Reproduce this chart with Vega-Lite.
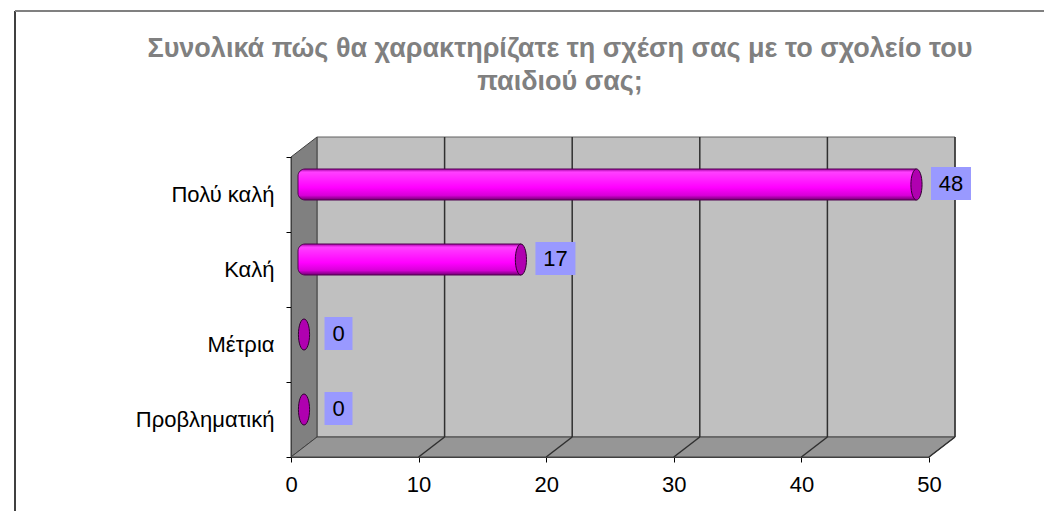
{
  "$schema": "https://vega.github.io/schema/vega-lite/v6.json",
  "width": 638,
  "height": 300,
  "autosize": "none",
  "padding": {"left": 291, "top": 157, "right": 115, "bottom": 54},
  "background": "white",
  "config": {
    "font": "Liberation Sans",
    "view": {"stroke": null}
  },
  "title": {
    "text": ["Συνολικά πώς θα χαρακτηρίζατε τη σχέση σας με το σχολείο του", "παιδιού σας;"],
    "fontSize": 27,
    "fontWeight": "bold",
    "color": "#808080",
    "anchor": "middle",
    "frame": "group",
    "baseline": "bottom",
    "lineHeight": 33,
    "dx": -50,
    "offset": -113
  },
  "layer": [
    {
      "data": {"values": [{}]},
      "layer": [
        {
          "mark": {"type": "rect", "fill": "#c0c0c0", "stroke": "#606060", "strokeWidth": 1,
                   "xOffset": 26, "x2Offset": 26, "yOffset": -20, "y2Offset": -20},
          "encoding": {
            "x": {"datum": 0, "type": "quantitative"},
            "x2": {"datum": 50},
            "y": {"datum": 0, "type": "quantitative", "scale": {"domain": [0, 300]}, "axis": null},
            "y2": {"datum": 300}
          }
        },
        {
          "mark": {"type": "point", "filled": true, "opacity": 1, "fill": "#808080", "stroke": "#404040", "strokeWidth": 1,
                   "shape": "M-0.08125,-0.875L0.08125,-1L0.08125,0.875L-0.08125,1Z", "size": 102400,
                   "xOffset": 13, "yOffset": -10},
          "encoding": {
            "x": {"datum": 0, "type": "quantitative"},
            "y": {"datum": 150, "type": "quantitative"}
          }
        },
        {
          "mark": {"type": "point", "filled": true, "opacity": 1, "fill": "#969696", "stroke": "#404040", "strokeWidth": 1,
                   "shape": "M-1,0.03012L0.92169,0.03012L1,-0.03012L-0.92169,-0.03012Z", "size": 440896,
                   "xOffset": 13, "yOffset": -10},
          "encoding": {
            "x": {"datum": 25, "type": "quantitative"},
            "y": {"datum": 0, "type": "quantitative"}
          }
        },
        {
          "data": {"values": [{"tick": 10}, {"tick": 20}, {"tick": 30}, {"tick": 40}, {"tick": 50}]},
          "mark": {"type": "rule", "stroke": "#303030", "strokeWidth": 1.5,
                   "xOffset": 26, "yOffset": -20, "y2Offset": -20},
          "encoding": {
            "x": {"field": "tick", "type": "quantitative"},
            "y": {"datum": 0, "type": "quantitative"},
            "y2": {"datum": 300}
          }
        },
        {
          "data": {"values": [{"tick": 10}, {"tick": 20}, {"tick": 30}, {"tick": 40}, {"tick": 50}]},
          "mark": {"type": "rule", "stroke": "#303030", "strokeWidth": 1.5,
                   "x2Offset": 26, "y2Offset": -20},
          "encoding": {
            "x": {"field": "tick", "type": "quantitative"},
            "x2": {"field": "tick"},
            "y": {"datum": 0, "type": "quantitative"},
            "y2": {"datum": 0}
          }
        },
        {
          "mark": {"type": "rule", "stroke": "#000000", "strokeWidth": 1.5,
                   "xOffset": -276, "yOffset": -146, "y2Offset": 60},
          "encoding": {
            "x": {"datum": 0, "type": "quantitative"},
            "y": {"datum": 300, "type": "quantitative"},
            "y2": {"datum": 0}
          }
        },
        {
          "mark": {"type": "rule", "stroke": "#808080", "strokeWidth": 2,
                   "xOffset": -276, "x2Offset": 120, "yOffset": -146, "y2Offset": -146},
          "encoding": {
            "x": {"datum": 0, "type": "quantitative"},
            "x2": {"datum": 50},
            "y": {"datum": 300, "type": "quantitative"},
            "y2": {"datum": 300}
          }
        }
      ]
    },
    {
      "data": {
        "values": [
          {"answer": "Πολύ καλή", "count": 48},
          {"answer": "Καλή", "count": 17},
          {"answer": "Μέτρια", "count": 0},
          {"answer": "Προβληματική", "count": 0}
        ]
      },
      "encoding": {
        "y": {
          "field": "answer",
          "type": "nominal",
          "sort": null,
          "scale": {"paddingInner": 0, "paddingOuter": 0},
          "axis": {
            "orient": "left", "title": null, "labelFontSize": 22, "labelColor": "#000000",
            "labelPadding": 12, "tickSize": 5, "tickColor": "#000000", "tickBand": "extent",
            "domainColor": "#404040", "labelLimit": 300, "zindex": 1
          }
        },
        "x": {
          "field": "count",
          "type": "quantitative",
          "scale": {"domain": [0, 50], "nice": false},
          "axis": {
            "title": null, "values": [0, 10, 20, 30, 40, 50], "labelFontSize": 22, "labelColor": "#000000",
            "labelPadding": 12, "tickSize": 5, "tickColor": "#000000", "domainColor": "#404040",
            "grid": false, "labelFlush": false, "labelOverlap": false, "zindex": 1
          }
        }
      },
      "layer": [
        {
          "transform": [{"filter": "datum.count > 0"}],
          "mark": {
            "type": "bar", "size": 31, "xOffset": 7, "x2Offset": 13, "yOffset": -10, "y2Offset": -10,
            "cornerRadiusTopLeft": 7, "cornerRadiusBottomLeft": 7,
            "stroke": "#500050", "strokeWidth": 1,
            "fill": {
              "gradient": "linear", "x1": 0, "y1": 0, "x2": 0, "y2": 1,
              "stops": [
                {"offset": 0, "color": "#a000a0"},
                {"offset": 0.1, "color": "#ff40ff"},
                {"offset": 0.6, "color": "#ff00ff"},
                {"offset": 0.85, "color": "#d800d8"},
                {"offset": 1, "color": "#700070"}
              ]
            }
          },
          "encoding": {
            "x": {"datum": 0, "type": "quantitative"},
            "x2": {"field": "count"}
          }
        },
        {
          "mark": {"type": "point", "filled": true, "opacity": 1, "fill": "#b000b0", "stroke": "#300030", "strokeWidth": 1,
                   "shape": "M0,-1A0.36,1 0 1,1 0,1A0.36,1 0 1,1 0,-1Z", "size": 961,
                   "xOffset": 13, "yOffset": -10}
        },
        {
          "mark": {"type": "point", "filled": true, "opacity": 1, "fill": "#9999ff", "strokeWidth": 0,
                   "xOffset": 47.5, "yOffset": -11},
          "encoding": {
            "shape": {"condition": {"test": "datum.count >= 10", "value": "M-1,-0.825H1V0.825H-1Z"}, "value": "M-1,-1.18H1V1.18H-1Z"},
            "size": {"condition": {"test": "datum.count >= 10", "value": 1600}, "value": 784}
          }
        },
        {
          "mark": {"type": "text", "fontSize": 22, "color": "#000000", "align": "center", "baseline": "middle",
                   "xOffset": 47.5, "yOffset": -11},
          "encoding": {"text": {"field": "count", "type": "quantitative"}}
        }
      ]
    }
  ],
  "resolve": {"scale": {"y": "independent"}}
}
